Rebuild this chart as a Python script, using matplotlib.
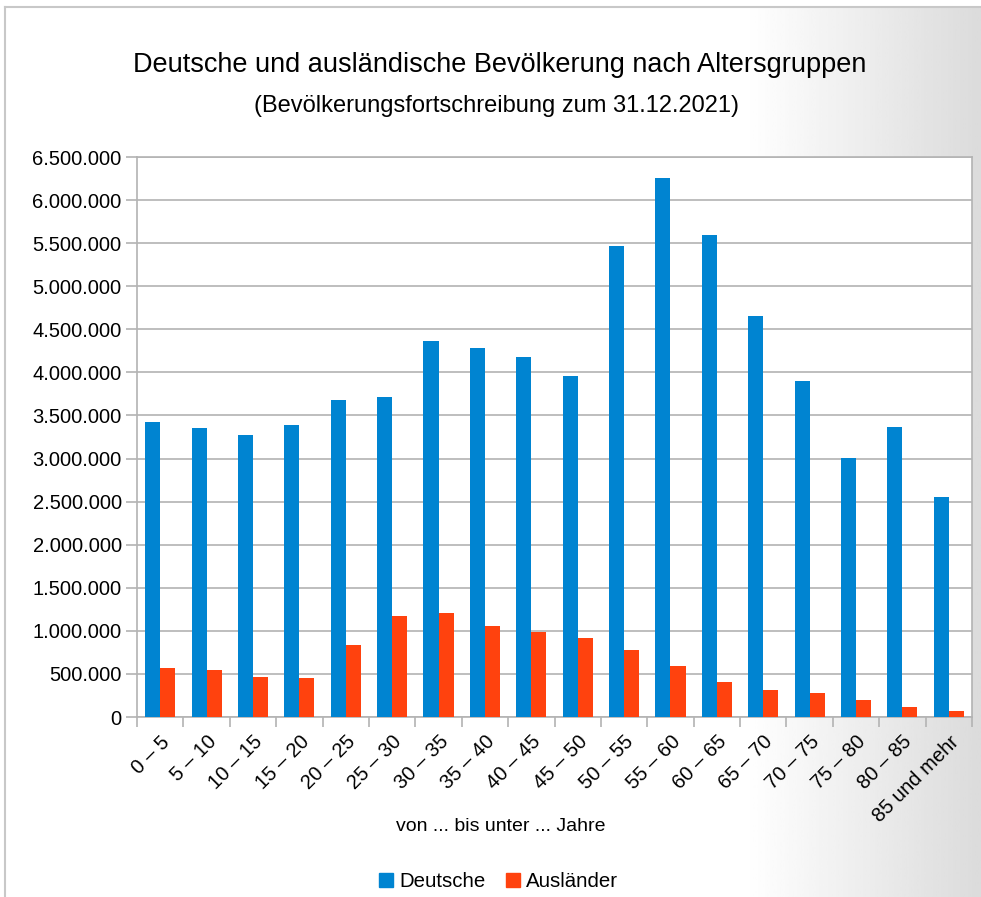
import numpy as np
import matplotlib
matplotlib.use("Agg")
import matplotlib.pyplot as plt
from matplotlib.patches import Patch
from matplotlib.lines import Line2D

plt.rcParams['font.family'] = ['Liberation Sans', 'DejaVu Sans']

# Altersgruppen und Bevölkerung (Stand 31.12.2021)
groups = ["0 – 5", "5 – 10", "10 – 15", "15 – 20", "20 – 25", "25 – 30",
          "30 – 35", "35 – 40", "40 – 45", "45 – 50", "50 – 55", "55 – 60",
          "60 – 65", "65 – 70", "70 – 75", "75 – 80", "80 – 85", "85 und mehr"]
deutsche = [3424000, 3354000, 3273000, 3389000, 3680000, 3714000,
            4364000, 4283000, 4179000, 3958000, 5467000, 6256000,
            5595000, 4654000, 3900000, 3006000, 3366000, 2554000]
auslaender = [569000, 545000, 464000, 453000, 836000, 1172000,
              1207000, 1056000, 987000, 917000, 778000, 592000,
              406000, 313000, 279000, 197000, 116000, 70000]
yticks = np.arange(0, 6500001, 500000)

blue = "#0084d1"
red = "#ff420e"
grid = "#b3b3b3"

fig = plt.figure(figsize=(9.81, 8.97), dpi=100)

# background with gradient on the right side
bg = fig.add_axes([5 / 981, 0, 976 / 981, 890 / 897], zorder=-10)
xs = np.linspace(0, 1, 400)
shade = 1 - 0.14 * np.clip((xs - 0.76) / 0.24, 0, 1)
bg.imshow(np.tile(shade, (2, 1)), cmap="gray", vmin=0, vmax=1,
          aspect="auto", extent=[0, 1, 0, 1])
bg.set_axis_off()
fig.add_artist(Line2D([5 / 981, 5 / 981], [0, 890 / 897], color="#c8c8c8", lw=1.5))
fig.add_artist(Line2D([5 / 981, 1], [890 / 897, 890 / 897], color="#c8c8c8", lw=1.5))

ax = fig.add_axes([137 / 981, 1 - 717 / 897, 835 / 981, 560 / 897])
ax.set_facecolor("white")

x = np.arange(len(groups))
w = 0.325
ax.bar(x - w / 2, deutsche, w, color=blue, label="Deutsche", zorder=3)
ax.bar(x + w / 2, auslaender, w, color=red, label="Ausländer", zorder=3)

ax.set_xlim(-0.5, len(groups) - 0.5)
ax.set_ylim(0, 6500000)
ax.set_yticks(yticks)
ax.set_yticklabels([f"{v:,}".replace(",", ".") for v in yticks], fontsize=14.5)
ax.yaxis.grid(True, color=grid, lw=1.2, zorder=0)
ax.tick_params(axis="y", length=8, color=grid, width=1.2, pad=3)

ax.set_xticks(x)
ax.set_xticklabels(groups, rotation=45, ha="right", rotation_mode="anchor", fontsize=14.5)
ax.tick_params(axis="x", which="major", length=0, pad=11)
ax.set_xticks(np.arange(len(groups) + 1) - 0.5, minor=True)
ax.tick_params(axis="x", which="minor", length=7, color=grid, width=1.2)

for s in ax.spines.values():
    s.set_color(grid)
    s.set_linewidth(1.2)

fig.text(0.509, 0.927, "Deutsche und ausländische Bevölkerung nach Altersgruppen",
         ha="center", va="center", fontsize=19.5)
fig.text(0.506, 0.882, "(Bevölkerungsfortschreibung zum 31.12.2021)",
         ha="center", va="center", fontsize=17)
fig.text(0.510, 0.079, "von ... bis unter ... Jahre", ha="center", va="center", fontsize=14)

handles = [Patch(color=blue), Patch(color=red)]
fig.legend(handles, ["Deutsche", "Ausländer"], loc="center",
           bbox_to_anchor=(0.508, 0.017), ncol=2, frameon=False, fontsize=14.7,
           handlelength=0.7, handleheight=0.7, handletextpad=0.3, columnspacing=1.0)

fig.savefig("out.png", dpi=100)
